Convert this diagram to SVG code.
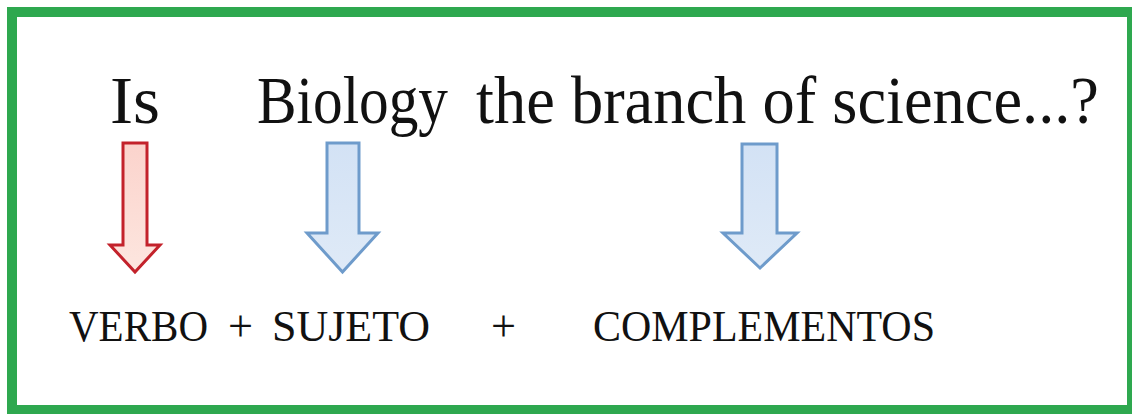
<svg xmlns="http://www.w3.org/2000/svg" width="1132" height="414" viewBox="0 0 1132 414">
<style>
.top{font-family:"Liberation Serif","Times New Roman",serif;font-size:68px;fill:#111}
.bot{font-family:"Liberation Serif","Times New Roman",serif;font-size:44px;fill:#111}
.red{fill:url(#gr);stroke:#C3222B;stroke-width:3;stroke-linejoin:miter}
.blue{fill:url(#gb);stroke:#6E9BCB;stroke-width:3;stroke-linejoin:miter}
</style>
<defs>
<linearGradient id="gr" x1="0" y1="0" x2="0" y2="1"><stop offset="0" stop-color="#FBD3CC"/><stop offset="1" stop-color="#FDE6DF"/></linearGradient>
<linearGradient id="gb" x1="0" y1="0" x2="0" y2="1"><stop offset="0" stop-color="#D3E2F5"/><stop offset="1" stop-color="#DFEAF7"/></linearGradient>
</defs>
<rect x="0" y="0" width="1132" height="414" fill="#ffffff"/>
<rect id="frame" x="12" y="12" width="1120" height="398" fill="none" stroke="#2EA84F" stroke-width="10"/>
<g id="sentence">
<text id="t-is" class="top" x="110" y="123" textLength="50" lengthAdjust="spacingAndGlyphs">Is</text>
<text id="t-biology" class="top" x="257" y="123" textLength="191" lengthAdjust="spacingAndGlyphs">Biology</text>
<text id="t-rest" class="top" x="476" y="123" textLength="623" lengthAdjust="spacingAndGlyphs">the branch of science...?</text>
</g>
<g id="connectors">
<path id="a-verbo" class="red" d="M123,143 H147 V245 H160 L135,272 L110,245 H123 Z"/>
<path id="a-sujeto" class="blue" d="M327,143 H359 V233 H378 L342.5,272 L307,233 H327 Z"/>
<path id="a-compl" class="blue" d="M742,144 H777 V233 H797 L760,268 L723,233 H742 Z"/>
</g>
<g id="labels">
<text id="l-verbo" class="bot" x="69" y="341" textLength="139" lengthAdjust="spacingAndGlyphs">VERBO</text>
<text id="l-plus1" class="bot" x="228" y="341" textLength="25" lengthAdjust="spacingAndGlyphs">+</text>
<text id="l-sujeto" class="bot" x="272" y="341" textLength="158" lengthAdjust="spacingAndGlyphs">SUJETO</text>
<text id="l-plus2" class="bot" x="491" y="341" textLength="25" lengthAdjust="spacingAndGlyphs">+</text>
<text id="l-compl" class="bot" x="593" y="341" textLength="342" lengthAdjust="spacingAndGlyphs">COMPLEMENTOS</text>
</g>
</svg>
